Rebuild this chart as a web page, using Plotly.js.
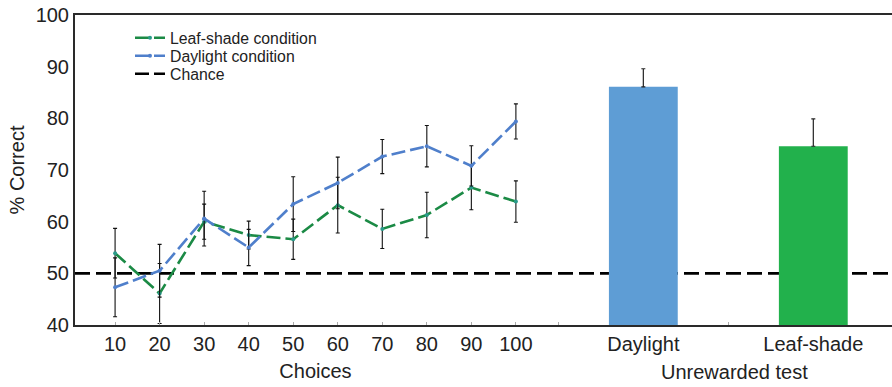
<!DOCTYPE html>
<html>
<head>
<meta charset="utf-8">
<script src="https://cdn.plot.ly/plotly-3.0.1.min.js"></script>
<style>html,body{margin:0;padding:0;background:#fff;}#chart{width:892px;height:387px;}</style>
</head>
<body>
<div id="chart"></div>
<script>
// ---- data ----
const choices = [10, 20, 30, 40, 50, 60, 70, 80, 90, 100];
const leafShade = [53.9, 46.1, 60.0, 57.4, 56.6, 63.2, 58.6, 61.3, 66.6, 63.9];
const leafShadeErr = [4.8, 5.8, 3.4, 2.7, 3.9, 5.4, 3.8, 4.4, 4.3, 4.0];
const daylight = [47.3, 50.5, 60.6, 55.0, 63.4, 67.5, 72.6, 74.6, 70.8, 79.4];
const daylightErr = [5.7, 5.1, 5.3, 3.5, 5.3, 5.0, 3.3, 4.0, 3.9, 3.4];
const testConditions = ['Daylight', 'Leaf-shade'];
const testValues = [86.1, 74.6];
const testErr = [3.5, 5.3];
const chanceLevel = 50;
const yTicks = [40, 50, 60, 70, 80, 90, 100];

const FONT = 'Liberation Sans, Arial, sans-serif';
const GREEN = '#1b8a45';
const BLUE = '#4f7fcb';

const traces = [
  {
    type: 'bar', x: testConditions, y: testValues, xaxis: 'x2', yaxis: 'y',
    marker: {color: ['#5e9dd5', '#22b14c']}, width: 0.405, showlegend: false,
    error_y: {type: 'data', array: testErr, arrayminus: [0, 0], symmetric: false,
              color: '#222', thickness: 1.2, width: 2}
  },
  {
    type: 'scatter', mode: 'lines+markers', name: 'Leaf-shade condition', legend: 'legend',
    x: choices, y: leafShade, xaxis: 'x', yaxis: 'y',
    line: {color: GREEN, width: 2.6, dash: '14px,5px'},
    marker: {color: '#2a9a8a', size: 4},
    error_y: {type: 'data', array: leafShadeErr, color: '#111', thickness: 1.1, width: 2}
  },
  {
    type: 'scatter', mode: 'lines+markers', name: 'Daylight condition', legend: 'legend2',
    x: choices, y: daylight, xaxis: 'x', yaxis: 'y',
    line: {color: BLUE, width: 2.6, dash: '14px,5px'},
    marker: {color: BLUE, size: 4},
    error_y: {type: 'data', array: daylightErr, color: '#111', thickness: 1.1, width: 2}
  },
  {
    type: 'scatter', mode: 'lines', name: 'Chance', legend: 'legend3',
    x: [null], y: [null], xaxis: 'x', yaxis: 'y',
    line: {color: '#000', width: 2.6, dash: '14px,5px'}
  }
];

function legendAt(py) {
  return {x: (130 - 75) / 817, y: 1 - (py - 15) / 310, xanchor: 'left', yanchor: 'middle',
          font: {family: FONT, size: 15.8, color: '#222'}, bgcolor: 'rgba(0,0,0,0)',
          borderwidth: 0, tracegroupgap: 0};
}

const layout = {
  width: 892, height: 387,
  margin: {l: 75, r: 0, t: 15, b: 62},
  paper_bgcolor: '#fff', plot_bgcolor: '#fff',
  font: {family: FONT, color: '#222', size: 20},
  showlegend: true,
  legend: legendAt(38),
  legend2: legendAt(56),
  legend3: legendAt(74),
  xaxis: {
    domain: [0, 0.5887], range: [1, 109], tickvals: choices, ticktext: choices.map(String),
    ticks: 'inside', ticklen: 3, tickcolor: '#aaa', showgrid: false, zeroline: false,
    showline: true, mirror: true, linecolor: '#2a2a2a', linewidth: 2,
    tickfont: {size: 20, family: FONT, color: '#222'},
    title: {text: 'Choices', font: {size: 20, family: FONT, color: '#222'}, standoff: 10},
    anchor: 'y'
  },
  xaxis2: {
    domain: [0.5887, 1], type: 'category', range: [-0.514, 1.463],
    ticks: 'inside', ticklen: 3, tickcolor: '#aaa', tickson: 'boundaries',
    showgrid: false, zeroline: false,
    showline: true, mirror: true, linecolor: '#2a2a2a', linewidth: 2,
    tickfont: {size: 20, family: FONT, color: '#222'},
    anchor: 'y'
  },
  yaxis: {
    range: [40, 100], tickvals: yTicks, ticks: '', showgrid: false, zeroline: false,
    showline: true, linecolor: '#2a2a2a', linewidth: 2,
    tickfont: {size: 20, family: FONT, color: '#222'},
    title: {text: '% Correct', font: {size: 20, family: FONT, color: '#222'}, standoff: 6}
  },
  shapes: [{
    type: 'line', xref: 'paper', yref: 'y', x0: 0, x1: 1, y0: chanceLevel, y1: chanceLevel,
    layer: 'below', line: {color: '#000', width: 2.6, dash: '15px,6px'}
  }],
  annotations: [{
    text: 'Unrewarded test', xref: 'paper', yref: 'paper', x: (734.7 - 75) / 817, y: 0,
    yshift: -47, xanchor: 'center', yanchor: 'middle', showarrow: false,
    font: {size: 20, family: FONT, color: '#222'}
  }]
};

Plotly.newPlot('chart', traces, layout, {displayModeBar: false, staticPlot: true});
</script>
</body>
</html>
